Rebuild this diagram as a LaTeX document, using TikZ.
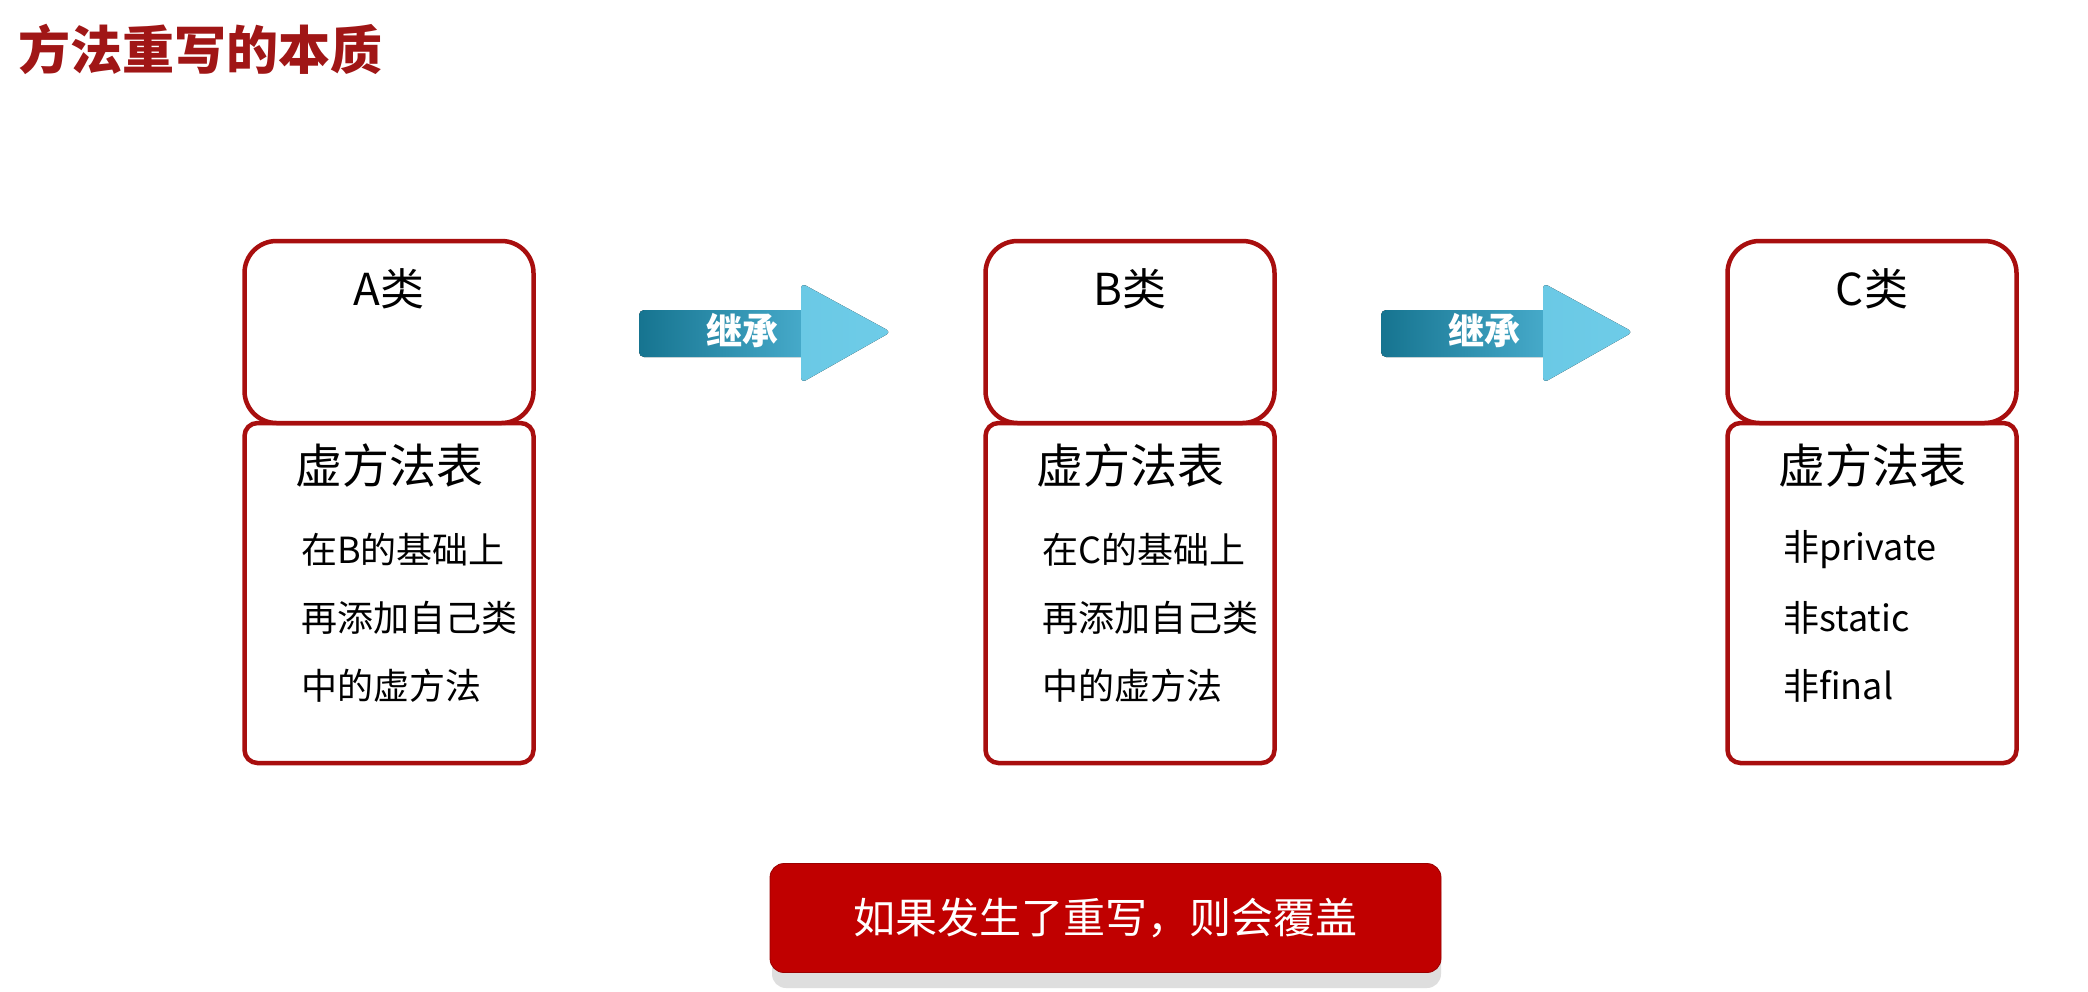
\documentclass[tikz,border=0pt]{standalone}
\usepackage{fontspec}
\newfontfamily\cjk{Noto Sans CJK SC}
\usetikzlibrary{positioning}
\definecolor{boxred}{RGB}{168,14,14}
\definecolor{titlered}{RGB}{160,22,22}
\definecolor{btnred}{RGB}{192,0,0}
\definecolor{tealdark}{RGB}{22,116,144}
\definecolor{tealmid}{RGB}{72,172,204}
\definecolor{teallight}{RGB}{110,204,232}
\definecolor{shadowgray}{RGB}{222,222,222}
\tikzset{
 classbox/.style={draw=boxred, line width=4.5pt, rounded corners=32pt, minimum width=289pt, minimum height=182pt, fill=white, inner sep=0pt},
 tablebox/.style={draw=boxred, line width=4.5pt, rounded corners=13pt, minimum width=289pt, minimum height=340pt, fill=white, inner sep=0pt},
 classname/.style={font=\cjk\fontsize{44}{44}\selectfont, inner sep=0pt},
 tabletitle/.style={font=\cjk\fontsize{47}{47}\selectfont, inner sep=0pt},
 entry/.style={font=\cjk\fontsize{36}{36}\selectfont, anchor=west, inner sep=0pt},
 arrowlabel/.style={font=\cjk\bfseries\fontsize{36}{36}\selectfont, text=white, inner sep=0pt},
 arrowbody/.style={left color=tealdark, right color=tealmid, rounded corners=5pt},
 arrowhead/.style={left color=teallight!90!tealmid, right color=teallight, rounded corners=5pt},
}
\begin{document}
\begin{tikzpicture}[x=1pt,y=-1pt]
\useasboundingbox (0,0) rectangle (2088,991);
\fill[white] (0,0) rectangle (2088,991);

% title
\node[anchor=west, inner sep=0pt, text=titlered, font=\cjk\bfseries\fontsize{52}{52}\selectfont] (title) at (18,49) {方法重写的本质};

% class boxes
\foreach \n/\cx/\cname in {a/389/A类, b/1130/B类, c/1872/C类}{
  \node[tablebox] (\n vt) at (\cx,593) {};
  \node[classbox] (\n cls) at (\cx,332) {};
  \node[classname] (\n name) at (\cx,289) {\cname};
  \node[tabletitle] (\n vtt) at (\cx,466) {虚方法表};
}

% entries
\node[entry] (a1) at (301,550) {在B的基础上};
\node[entry] (a2) at (301,618) {再添加自己类};
\node[entry] (a3) at (301,686) {中的虚方法};
\node[entry] (b1) at (1042,550) {在C的基础上};
\node[entry] (b2) at (1042,618) {再添加自己类};
\node[entry] (b3) at (1042,686) {中的虚方法};
\node[entry] (c1) at (1783,550) {非private};
\node[entry] (c2) at (1783,618) {非static};
\node[entry] (c3) at (1783,686) {非final};

% inheritance arrows
\foreach \x/\n in {639/ab, 1381/bc}{
  \fill[arrowbody] (\x,310) rectangle ++(170,47);
  \fill[arrowhead] (\x+162,283) -- (\x+252,332) -- (\x+162,383) -- cycle;
  \node[arrowlabel] (\n label) at (\x+103,331) {继承};
}

% bottom note
\fill[shadowgray, rounded corners=14pt] (772,878) rectangle (1441,988);
\node[fill=btnred, draw=btnred!80!black, line width=0.8pt, rounded corners=14pt, minimum width=671pt, minimum height=109pt, inner sep=0pt,
      text=white, font=\cjk\fontsize{42}{42}\selectfont] (note) at (1105.5,918) {如果发生了重写，则会覆盖};
\end{tikzpicture}
\end{document}
